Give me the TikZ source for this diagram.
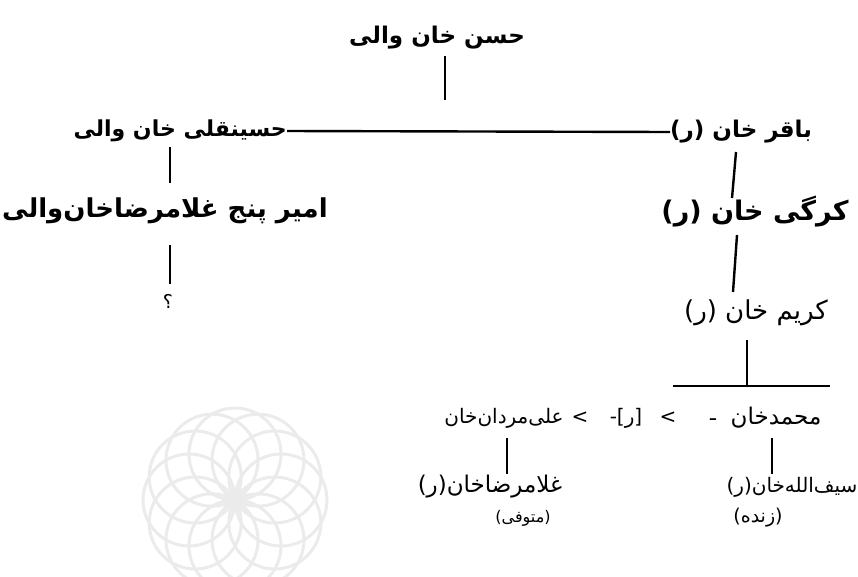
\documentclass[tikz,border=0pt]{standalone}
\usepackage{fontspec}
\TeXXeTstate=1
\newfontfamily\arabicfont[Script=Arabic]{DejaVu Sans}
\newfontfamily\latinfont{DejaVu Sans}
\newcommand{\rtl}[1]{\beginR #1\endR}
\newcommand{\fsz}[1]{\fontsize{#1}{#1}\selectfont}
\tikzset{
  boldname/.style={font=\arabicfont\bfseries, inner sep=0pt},
  plainname/.style={font=\arabicfont, inner sep=0pt},
  link/.style={line width=2.4pt, line cap=butt},
  wmark/.style={gray!16, line width=3pt}
}
\begin{document}
\begin{tikzpicture}[x=1pt,y=-1pt]
\useasboundingbox (0,0) rectangle (858,576);
% faint watermark
\begin{scope}
\clip (0,0) rectangle (858,576);
\foreach \a in {0,30,...,330}{
  \draw[wmark] (235,500) ++(\a:46) circle[radius=46pt];
}
\end{scope}
% nodes
\node[boldname] (hasan) at (437,38) {\fsz{23}\rtl{حسن خان والی}};
\node[boldname, anchor=east] (hos) at (287,131) {\fsz{22}\rtl{حسینقلی خان والی}};
\node[boldname] (amir) at (165,211) {\fsz{26}\rtl{امیر پنج غلامرضاخان‌والی}};
\node[plainname] (q) at (168,301) {\fsz{19}\rtl{؟}};
\node[boldname, anchor=west] (baq) at (670,132) {\fsz{23}\rtl{باقر خان (ر)}};
\node[boldname] (kar) at (755,212) {\fsz{27}\rtl{کرگی خان (ر)}};
\node[plainname] (karim) at (756,313) {\fsz{26}\rtl{کریم خان (ر)}};
\node[plainname] (ali) at (504,418) {\fsz{20}\rtl{علی‌مردان‌خان}};
\node[plainname] (s1) at (580,418) {\fsz{20}{\latinfont <}};
\node[plainname] (s2) at (626,418) {\fsz{20}{\latinfont -[}{\arabicfont ر}{\latinfont ]}};
\node[plainname] (s3) at (668,418) {\fsz{20}{\latinfont <}};
\node[plainname] (mo) at (776,418) {\fsz{23}\rtl{محمدخان}};
\node[plainname] (s4) at (713,420) {\fsz{20}{\arabicfont ـ}};
\node[plainname] (gh) at (490,487) {\fsz{23}\rtl{غلامرضاخان(ر)}};
\node[plainname] (sey) at (792,487) {\fsz{20}\rtl{سیف‌الله‌خان(ر)}};
\node[plainname] (mot) at (523,518) {\fsz{16}\rtl{(متوفی)}};
\node[plainname] (zen) at (758,518) {\fsz{19}\rtl{(زنده)}};
% junction points
\coordinate (t1) at (445,56);
\coordinate (t2) at (445,100);
\coordinate (k1) at (747,340);
\coordinate (k2) at (747,386);
\coordinate (h1) at (673,386);
\coordinate (h2) at (830,386);
% connectors
\draw[link] (t1) -- (t2);
\draw[link] (hos.east) -- (baq.west);
\draw[link] (170,147) -- (170,183);
\draw[link] (170,245) -- (170,284);
\draw[link] (736,152) -- (732,198);
\draw[link] (737,235) -- (733,292);
\draw[link] (k1) -- (k2);
\draw[link] (h1) -- (h2);
\draw[link] (507,438) -- (507,474);
\draw[link] (772,438) -- (772,474);
\end{tikzpicture}
\end{document}
